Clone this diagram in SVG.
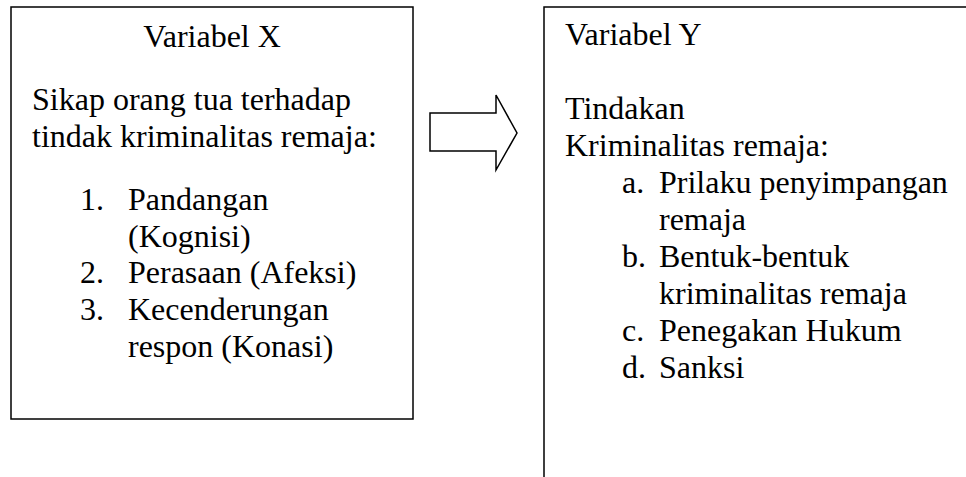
<svg xmlns="http://www.w3.org/2000/svg" width="966" height="477" viewBox="0 0 966 477">
<rect width="966" height="477" fill="#fff"/>
<g id="varX" font-family="Liberation Serif" font-size="32" fill="#000">
<rect x="11" y="7" width="402" height="412" fill="#fff" stroke="#000" stroke-width="1.5"/>
<text x="212" y="47" text-anchor="middle">Variabel X</text>
<text x="32" y="110">Sikap orang tua terhadap</text>
<text x="32" y="147">tindak kriminalitas remaja:</text>
<text x="80" y="210">1.</text>
<text x="128" y="210">Pandangan</text>
<text x="128" y="246.5">(Kognisi)</text>
<text x="80" y="283">2.</text>
<text x="128" y="283">Perasaan (Afeksi)</text>
<text x="80" y="320">3.</text>
<text x="128" y="320">Kecenderungan</text>
<text x="128" y="356.5">respon (Konasi)</text>
</g>
<g id="connectors">
<polygon points="430,113 496,113 496,95 517,133 496,170 496,151 430,151" fill="#fff" stroke="#000" stroke-width="1.5"/>
</g>
<g id="varY" font-family="Liberation Serif" font-size="32" fill="#000">
<rect x="544" y="7" width="440" height="490" fill="#fff" stroke="#000" stroke-width="1.5"/>
<text x="565" y="45">Variabel Y</text>
<text x="565" y="119">Tindakan</text>
<text x="565" y="156">Kriminalitas remaja:</text>
<text x="622" y="193">a.</text>
<text x="659" y="193">Prilaku penyimpangan</text>
<text x="659" y="230">remaja</text>
<text x="622" y="267">b.</text>
<text x="659" y="267">Bentuk-bentuk</text>
<text x="659" y="304">kriminalitas remaja</text>
<text x="622" y="341">c.</text>
<text x="659" y="341">Penegakan Hukum</text>
<text x="622" y="378">d.</text>
<text x="659" y="378">Sanksi</text>
</g>
</svg>
